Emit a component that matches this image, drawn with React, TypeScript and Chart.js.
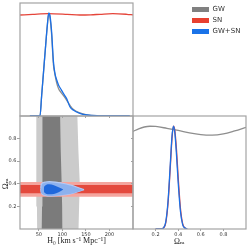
import React, { useEffect, useRef } from "react";
import { Chart, registerables } from "chart.js";
Chart.register(...registerables);

// ---------- data ----------
const h0Ticks = [50, 100, 150, 200];
const omTicks = [0.2, 0.4, 0.6, 0.8];

// 1D H0 posteriors
const h0Grid = [31, 52.5, 56, 60, 64, 68, 71, 73, 77, 81, 84, 88, 92, 97, 102, 109, 116, 123, 137, 152, 176, 210, 243];
const gwSnH0 = [0, 0, 0.2, 0.43, 0.66, 0.88, 1.0, 0.99, 0.83, 0.53, 0.42, 0.35, 0.3, 0.26, 0.22, 0.17, 0.09, 0.058, 0.026, 0.01, 0.002, 0, 0];
const gwH0 = [0, 0, 0.2, 0.43, 0.66, 0.88, 1.0, 0.98, 0.8, 0.5, 0.41, 0.32, 0.265, 0.23, 0.2, 0.155, 0.105, 0.065, 0.03, 0.012, 0.003, 0, 0];
const snH0Grid = [10, 37, 70, 110, 137, 160, 180, 207, 237, 250];
const snH0 = [0.983, 0.99, 0.997, 0.99, 0.983, 0.985, 0.99, 0.996, 0.99, 0.985];

// 1D Omega_m posteriors
const gwOmGrid = [0, 0.05, 0.1, 0.15, 0.2, 0.3, 0.4, 0.5, 0.6, 0.7, 0.8, 0.9, 1.0];
const gwOm = [0.95, 0.975, 0.993, 1.0, 0.998, 0.98, 0.96, 0.935, 0.918, 0.913, 0.925, 0.955, 0.99];
const omGrid = [0.2, 0.25, 0.27, 0.29, 0.31, 0.33, 0.345, 0.358, 0.37, 0.385, 0.4, 0.42, 0.44, 0.46, 0.48];
const gwSnOm = [0, 0, 0.01, 0.07, 0.27, 0.63, 0.9, 1.0, 0.94, 0.72, 0.45, 0.17, 0.04, 0.01, 0];
const snOm = [0, 0, 0.01, 0.06, 0.25, 0.6, 0.88, 1.0, 0.96, 0.77, 0.5, 0.2, 0.05, 0.01, 0];

// 2D credible regions
// GW: vertical bands (H0 edges as a function of Omega_m)
const gwBandOm = [-0.05, 0.2, 0.4, 0.7, 1.05];
const gwOuterLeft = [46.5, 46, 45.5, 44.5, 44];
const gwOuterRight = [134, 135.5, 137, 134, 131.5];
const gwInnerLeft = [56, 56.8, 57.3, 57.7, 58];
const gwInnerRight = [100, 99.5, 98.5, 96.5, 95];
// SN: horizontal bands (Omega_m edges across all H0)
const snBandH0 = [0, 260];
const snOuterUpper = [0.416, 0.416];
const snOuterLower = [0.286, 0.286];
const snInnerUpper = [0.389, 0.389];
const snInnerLower = [0.316, 0.316];
// GW+SN: closed contours (upper and lower Omega_m edges vs H0)
const jointOuterH0 = [54, 54.6, 56, 59, 64, 72, 85, 100, 116, 130, 146];
const jointOuterUpper = [0.357, 0.385, 0.4, 0.41, 0.416, 0.419, 0.415, 0.405, 0.39, 0.372, 0.348];
const jointOuterLower = [0.357, 0.33, 0.316, 0.305, 0.298, 0.293, 0.295, 0.301, 0.31, 0.326, 0.348];
const jointInnerH0 = [60.5, 61, 62.5, 65, 72, 82, 92, 102];
const jointInnerUpper = [0.35, 0.368, 0.38, 0.39, 0.396, 0.388, 0.37, 0.35];
const jointInnerLower = [0.35, 0.332, 0.32, 0.313, 0.307, 0.31, 0.325, 0.35];

const legendLabels = ["GW", "SN", "GW+SN"];

// ---------- styles ----------
const FRAME = "#a3a3a3";
const GRAY_LINE = "#8e8e8e";
const GRAY_DARK = "#7b7b7b";
const GRAY_LIGHT = "#cbcbcb";
const RED = "#e5453a";
const RED_DARK = "#e4493d";
const RED_LIGHT = "#f4a59e";
const BLUE = "#1a6fe6";
const BLUE_DARK = "#1f68dc";
const BLUE_LIGHT = "#8cb1ee";
const BLUE_EDGE = "#b3cbf5";
const NONE = "rgba(0,0,0,0)";
const legendColors = ["#808080", "#e8402f", "#1a73e8"];

const tickFont = { family: "DejaVu Sans", size: 5 };
const titleFont = { family: "Liberation Serif", size: 8 };
const OM_LABEL = "Ωₘ";
const omLabelAt = 0.4; // Omega_m value at which the Omega_m axis labels are centred

const zip = (xs: number[], ys: number[]) => xs.map((x, i) => ({ x, y: ys[i] }));
const setTicks = (vals: number[]) => (s: any) => {
  s.ticks = vals.map((v) => ({ value: v }));
};

const framePlugin = {
  id: "frame",
  afterDatasetsDraw(chart: any) {
    const { ctx, chartArea: a } = chart;
    ctx.save();
    ctx.strokeStyle = FRAME;
    ctx.lineWidth = 1.2;
    ctx.strokeRect(a.left, a.top, a.right - a.left, a.bottom - a.top);
    ctx.restore();
  },
};

const labelFontCss = "8px 'Liberation Serif', 'DejaVu Serif'";

// Omega_m label under the bottom-right x axis
const omXLabelPlugin = {
  id: "omXLabel",
  afterDraw(chart: any) {
    const { ctx } = chart;
    const xs = chart.scales.x;
    ctx.save();
    ctx.font = labelFontCss;
    ctx.fillStyle = "#222";
    ctx.textAlign = "center";
    ctx.textBaseline = "middle";
    ctx.fillText(OM_LABEL, xs.getPixelForValue(omLabelAt + 0.01), xs.bottom - 8.5);
    ctx.restore();
  },
};

// Omega_m label beside the bottom-left y axis
const omYLabelPlugin = {
  id: "omYLabel",
  afterDraw(chart: any) {
    const { ctx } = chart;
    const ys = chart.scales.y;
    ctx.save();
    ctx.font = labelFontCss;
    ctx.fillStyle = "#222";
    ctx.textAlign = "center";
    ctx.textBaseline = "middle";
    ctx.translate(ys.left + 6, ys.getPixelForValue(omLabelAt));
    ctx.rotate(-Math.PI / 2);
    ctx.fillText(OM_LABEL, 0, 0);
    ctx.restore();
  },
};

const line1D = (label: string, data: any[], color: string, width = 1.3) => ({
  label,
  data,
  borderColor: color,
  borderWidth: width,
  pointRadius: 0,
  fill: false,
  cubicInterpolationMode: "monotone" as const,
});

// a region = edge A filled to edge B (next dataset)
const regionPair = (
  label: string,
  a: any[],
  b: any[],
  color: string,
  opts: { edge?: string; smooth?: boolean; vertical?: boolean } = {}
) => {
  const base = {
    pointRadius: 0,
    borderColor: opts.edge || NONE,
    borderWidth: opts.edge ? 1.2 : 1,
    clip: 0,
    indexAxis: opts.vertical ? "y" : "x",
    cubicInterpolationMode: opts.smooth ? "monotone" : "default",
    tension: 0,
  };
  return [
    { ...base, label: label + " upper", data: a, backgroundColor: color, fill: "+1" },
    { ...base, label: label + " lower", data: b, backgroundColor: color, fill: false },
  ];
};

const common = {
  animation: false as const,
  responsive: false,
  events: [] as any[],
  plugins: { legend: { display: false }, tooltip: { enabled: false } },
};

export default function App() {
  const aRef = useRef<HTMLCanvasElement>(null);
  const bRef = useRef<HTMLCanvasElement>(null);
  const cRef = useRef<HTMLCanvasElement>(null);
  const lRef = useRef<HTMLCanvasElement>(null);

  useEffect(() => {
    const charts: Chart[] = [];

    // top-left: H0 marginal
    charts.push(
      new Chart(aRef.current!, {
        type: "line",
        data: {
          datasets: [
            line1D("GW+SN", zip(h0Grid, gwSnH0), BLUE),
            line1D("GW", zip(h0Grid, gwH0), GRAY_LINE),
            line1D("SN", zip(snH0Grid, snH0), RED),
          ],
        },
        options: {
          ...common,
          layout: { padding: { left: 20, top: 3, right: 116, bottom: 134 } },
          scales: {
            x: {
              type: "linear",
              min: 10,
              max: 250,
              afterBuildTicks: setTicks(h0Ticks),
              afterFit: (s: any) => {
                s.height = 0;
              },
              ticks: { display: false },
              grid: { drawOnChartArea: false, tickLength: 2, color: FRAME },
              border: { display: false },
            },
            y: { type: "linear", min: 0, max: 1.1, display: false },
          },
        } as any,
        plugins: [framePlugin],
      })
    );

    // bottom-left: joint H0 - Omega_m
    charts.push(
      new Chart(bRef.current!, {
        type: "line",
        data: {
          datasets: [
            ...regionPair("GW+SN 68%", zip(jointInnerH0, jointInnerUpper), zip(jointInnerH0, jointInnerLower), BLUE_DARK, { smooth: true }),
            ...regionPair("GW+SN 95%", zip(jointOuterH0, jointOuterUpper), zip(jointOuterH0, jointOuterLower), BLUE_LIGHT, { smooth: true, edge: BLUE_EDGE }),
            ...regionPair("SN 68%", zip(snBandH0, snInnerUpper), zip(snBandH0, snInnerLower), RED_DARK),
            ...regionPair("SN 95%", zip(snBandH0, snOuterUpper), zip(snBandH0, snOuterLower), RED_LIGHT),
            ...regionPair("GW 68%", zip(gwInnerLeft, gwBandOm), zip(gwInnerRight, gwBandOm), GRAY_DARK, { vertical: true }),
            ...regionPair("GW 95%", zip(gwOuterLeft, gwBandOm), zip(gwOuterRight, gwBandOm), GRAY_LIGHT, { vertical: true }),
          ],
        },
        options: {
          ...common,
          plugins: { ...common.plugins, filler: { drawTime: "beforeDatasetDraw" } },
          layout: { padding: { left: 0, top: 116, right: 116, bottom: 0 } },
          scales: {
            x: {
              type: "linear",
              min: 10,
              max: 250,
              afterBuildTicks: setTicks(h0Ticks),
              afterFit: (s: any) => {
                s.height = 21;
              },
              ticks: { font: tickFont, color: "#333", padding: 0.5, maxRotation: 0, autoSkip: false },
              grid: { drawOnChartArea: false, tickLength: 2, color: FRAME },
              border: { display: false },
              title: {
                display: true,
                text: "H₀ [km s⁻¹ Mpc⁻¹]",
                font: titleFont,
                color: "#222",
                padding: { top: 0, bottom: 4 },
              },
            },
            y: {
              type: "linear",
              min: 0,
              max: 1,
              afterBuildTicks: setTicks(omTicks),
              afterFit: (s: any) => {
                s.width = 20;
              },
              ticks: { font: tickFont, color: "#333", padding: 0.5, autoSkip: false },
              grid: { drawOnChartArea: false, tickLength: 3, color: FRAME },
              border: { display: false },
            },
          },
        } as any,
        plugins: [framePlugin, omYLabelPlugin],
      })
    );

    // bottom-right: Omega_m marginal
    charts.push(
      new Chart(cRef.current!, {
        type: "line",
        data: {
          datasets: [
            { ...line1D("GW+SN", zip(omGrid, gwSnOm), BLUE), yAxisID: "y" },
            { ...line1D("SN", zip(omGrid, snOm), RED), yAxisID: "y" },
            { ...line1D("GW", zip(gwOmGrid, gwOm), GRAY_LINE), yAxisID: "y" },
          ],
        },
        options: {
          ...common,
          layout: { padding: { left: 133, top: 116, right: 3, bottom: 0 } },
          scales: {
            x: {
              type: "linear",
              min: 0,
              max: 1,
              afterBuildTicks: setTicks(omTicks),
              afterFit: (s: any) => {
                s.height = 21;
              },
              ticks: { font: tickFont, color: "#333", padding: 0.5, maxRotation: 0, autoSkip: false },
              grid: { drawOnChartArea: false, tickLength: 2, color: FRAME },
              border: { display: false },
            },
            y: { type: "linear", min: 0, max: 1.1, display: false },
            yo: {
              type: "linear",
              position: "left",
              min: 0,
              max: 1,
              afterBuildTicks: setTicks(omTicks),
              afterFit: (s: any) => {
                s.width = 0;
              },
              ticks: { display: false },
              grid: { drawOnChartArea: false, tickLength: 2, color: FRAME },
              border: { display: false },
            },
          },
        } as any,
        plugins: [framePlugin, omXLabelPlugin],
      })
    );

    // legend
    charts.push(
      new Chart(lRef.current!, {
        type: "bar",
        data: {
          labels: [],
          datasets: legendLabels.map((l, i) => ({
            label: l,
            data: [],
            backgroundColor: legendColors[i],
            borderWidth: 0,
          })),
        },
        options: {
          animation: false,
          responsive: false,
          events: [],
          layout: { padding: 0 },
          scales: { x: { display: false }, y: { display: false } },
          plugins: {
            tooltip: { enabled: false },
            legend: {
              display: true,
              position: "top",
              align: "start",
              labels: {
                boxWidth: 17,
                boxHeight: 5,
                padding: 4,
                font: { family: "DejaVu Sans", size: 7 },
                color: "#333",
              },
            },
          },
        } as any,
      })
    );

    return () => charts.forEach((c) => c.destroy());
  }, []);

  const full: React.CSSProperties = { position: "absolute", left: 0, top: 0, display: "block" };
  return (
    <div style={{ position: "fixed", left: 0, top: 0, width: 249, height: 250, background: "#fff" }}>
      <canvas ref={bRef} width={249} height={250} style={full} />
      <canvas ref={cRef} width={249} height={250} style={full} />
      <canvas ref={aRef} width={249} height={250} style={full} />
      <canvas
        ref={lRef}
        width={61}
        height={90}
        style={{ position: "absolute", left: 188, top: 2, display: "block" }}
      />
    </div>
  );
}
